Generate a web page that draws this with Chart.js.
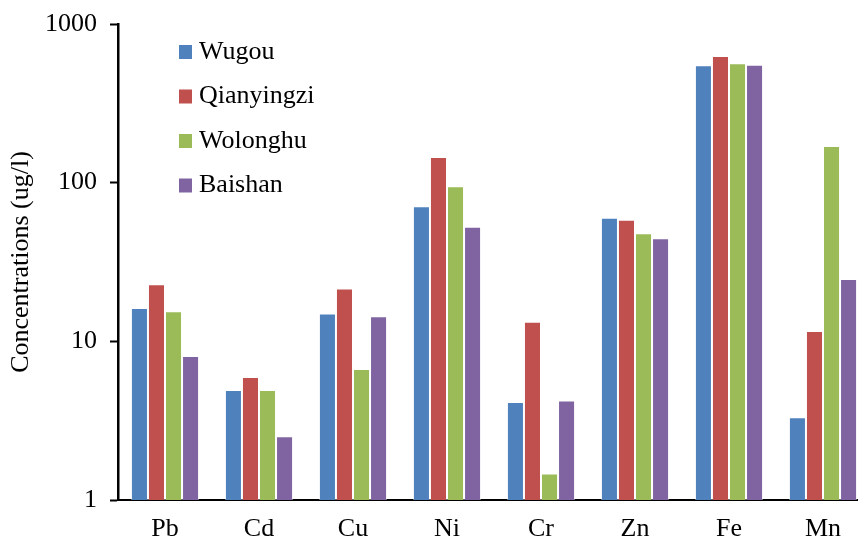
<!DOCTYPE html>
<html>
<head>
<meta charset="utf-8">
<script src="https://cdn.jsdelivr.net/npm/chart.js@4.4.1/dist/chart.umd.min.js"></script>
<style>
  html, body { margin: 0; padding: 0; background: #fff; overflow: hidden; }
</style>
</head>
<body>
<canvas id="chart" width="870" height="541"></canvas>
<script>
// metal concentrations per sampling site (ug/l)
const elements = ['Pb', 'Cd', 'Cu', 'Ni', 'Cr', 'Zn', 'Fe', 'Mn'];
const wugou = [16.2, 4.93, 15.0, 71.0, 4.15, 60.2, 549, 3.32];
const qianyingzi = [22.9, 5.96, 21.5, 145, 13.3, 58.4, 629, 11.6];
const wolonghu = [15.5, 4.93, 6.69, 94.9, 1.47, 48.0, 565, 170];
const baishan = [8.08, 2.52, 14.4, 52.8, 4.23, 44.6, 554, 24.7];
const yTicks = [1, 10, 100, 1000];

const serif = "'Liberation Serif', 'Times New Roman', serif";
const font = { family: serif, size: 26 };

// vertical legend drawn inside the plot, top-left
const sideLegend = {
  id: 'sideLegend',
  afterDraw(chart) {
    const ctx = chart.ctx;
    ctx.save();
    ctx.font = '26px ' + serif;
    ctx.textBaseline = 'middle';
    chart.data.datasets.forEach((ds, i) => {
      const y = 52 + i * 44.5;
      ctx.fillStyle = ds.backgroundColor;
      ctx.fillRect(179, y - 7, 13, 14);
      ctx.fillStyle = '#000';
      ctx.fillText(ds.label, 199, y);
    });
    ctx.restore();
  }
};

function series(label, data, color) {
  return {
    label: label,
    data: data,
    backgroundColor: color,
    borderColor: 'rgba(255,255,255,0.45)',
    borderWidth: 1,
    categoryPercentage: 0.725,
    barPercentage: 1.0
  };
}

new Chart(document.getElementById('chart'), {
  type: 'bar',
  data: {
    labels: elements,
    datasets: [
      series('Wugou', wugou, '#4F81BD'),
      series('Qianyingzi', qianyingzi, '#C0504D'),
      series('Wolonghu', wolonghu, '#9BBB59'),
      series('Baishan', baishan, '#8064A2')
    ]
  },
  options: {
    responsive: false,
    animation: false,
    layout: { padding: { top: 24, right: 0, left: 0, bottom: 0 } },
    plugins: {
      legend: { display: false },
      tooltip: { enabled: false }
    },
    scales: {
      x: {
        afterFit: s => { s.height = 41; },
        ticks: { color: '#000', font: font, padding: 14, maxRotation: 0 },
        grid: { display: false, drawTicks: false },
        border: { display: true, color: '#000', width: 2 }
      },
      y: {
        type: 'logarithmic',
        min: 1,
        max: 1000,
        afterBuildTicks: s => { s.ticks = yTicks.map(v => ({ value: v })); },
        afterFit: s => {
          s.width = 118;
          s.paddingTop = 0;
          s.paddingBottom = 0;
        },
        ticks: { color: '#000', font: font, padding: 13, callback: v => String(v) },
        grid: {
          display: true,
          drawOnChartArea: false,
          drawTicks: true,
          tickLength: 8,
          tickWidth: 2,
          tickColor: '#000'
        },
        border: { display: true, color: '#000', width: 2.5 },
        title: {
          display: true,
          text: 'Concentrations (ug/l)',
          color: '#000',
          font: font,
          padding: { top: 5.5, bottom: 0 }
        }
      }
    }
  },
  plugins: [sideLegend]
});
</script>
</body>
</html>
